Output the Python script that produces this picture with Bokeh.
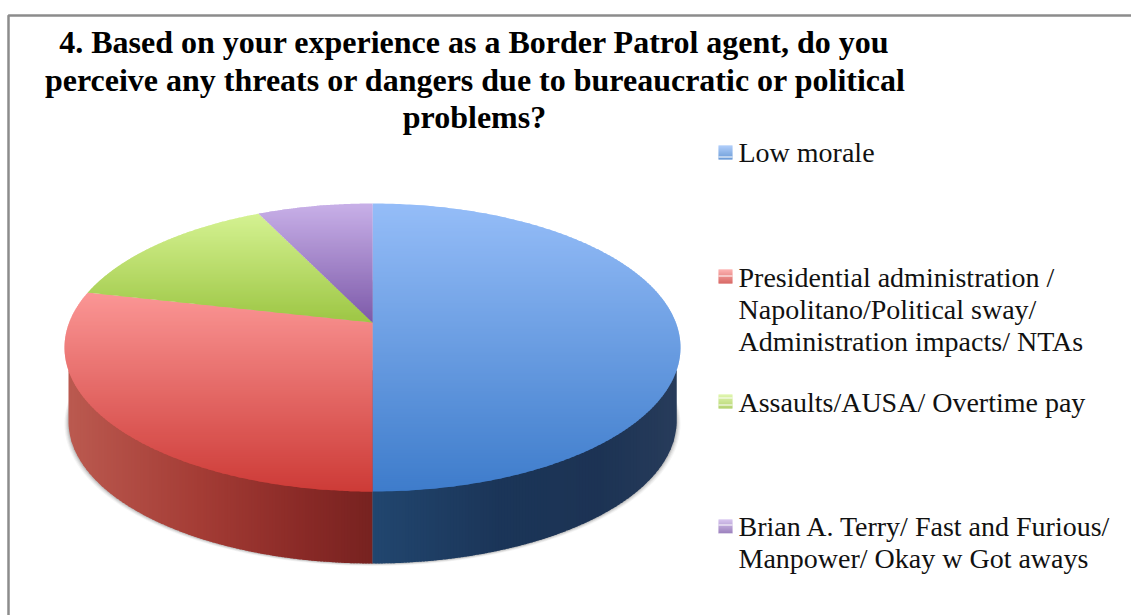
import numpy as np
from bokeh.core.properties import value
from bokeh.embed import file_html
from bokeh.models import ColumnDataSource, Range1d
from bokeh.plotting import figure
from bokeh.resources import INLINE

# Survey tallies, in clockwise order from twelve o'clock
categories = [
    "Low morale",
    "Presidential administration / Napolitano/Political sway/ Administration impacts/ NTAs",
    "Assaults/AUSA/ Overtime pay",
    "Brian A. Terry/ Fast and Furious/ Manpower/ Okay w Got aways",
]
counts = [7, 4, 2, 1]

title_lines = [
    "4. Based on your experience as a Border Patrol agent, do you",
    "perceive any threats or dangers due to bureaucratic or political",
    "problems?",
]
legend_lines = [
    ["Low morale"],
    ["Presidential administration /", "Napolitano/Political sway/", "Administration impacts/ NTAs"],
    ["Assaults/AUSA/ Overtime pay"],
    ["Brian A. Terry/ Fast and Furious/", "Manpower/ Okay w Got aways"],
]

# Top-surface gradient (upper colour, lower colour) for each slice
top_colors = [
    ("#95bdf8", "#3e7ccb"),
    ("#fb9695", "#cd3b37"),
    ("#d5f292", "#9dc644"),
    ("#c8b0e8", "#7d5aa9"),
]
# Wall shading as (x, colour) stops, for the two slices that face the viewer
red_wall = [(66, "#bb5a50"), (200, "#a43c35"), (300, "#8a2a27"), (372, "#772220")]
blue_wall = [(372, "#21466f"), (500, "#1b3558"), (600, "#1c3354"), (680, "#283c5b")]

# Page geometry in pixels, y growing downward
W, H = 1131, 615
CX = 372
TOP_Y, APEX_Y, BOTTOM_Y = 203, 322, 491
ELL_CY, ELL_RY, ELL_RX = 347, 144, 308
WALL_CY, WALL_RY, WALL_RX = 421, 142, 304


def rgb(hex_str):
    return np.array([int(hex_str[i:i + 2], 16) for i in (1, 3, 5)], dtype=float)


def to_hex(c):
    return "#%02x%02x%02x" % tuple(int(round(v)) for v in c)


def lerp(c0, c1, t):
    return to_hex(rgb(c0) * (1 - t) + rgb(c1) * t)


# Perspective mapping of the pie's unit disc onto the page
up, down = APEX_Y - TOP_Y, BOTTOM_Y - APEX_Y
persp = (up - down) / (BOTTOM_Y - TOP_Y)
a = up + TOP_Y * persp
halfwidth = ELL_RX * np.sqrt(1 - ((APEX_Y - ELL_CY) / ELL_RY) ** 2)


def disc_to_page(theta):
    u, v = np.sin(theta), -np.cos(theta)
    d = 1 + persp * v
    return CX + halfwidth * u / d, (a * v + APEX_Y) / d


def clip(poly, axis, lo, hi):
    """Clip a polygon to the band lo <= coordinate <= hi."""
    def half(pts, limit, keep_below):
        out = []
        n = len(pts)
        for i in range(n):
            p, q = pts[i], pts[(i + 1) % n]
            pin = p[axis] <= limit if keep_below else p[axis] >= limit
            qin = q[axis] <= limit if keep_below else q[axis] >= limit
            if pin:
                out.append(p)
            if pin != qin:
                t = (limit - p[axis]) / (q[axis] - p[axis])
                out.append((p[0] + t * (q[0] - p[0]), p[1] + t * (q[1] - p[1])))
        return out
    pts = half(poly, lo, False)
    if pts:
        pts = half(pts, hi, True)
    return pts


p = figure(width=W, height=H, output_backend="svg", toolbar_location=None,
           x_range=Range1d(0, W), y_range=Range1d(H, 0),
           min_border=0, outline_line_color=None, background_fill_color="white")
p.axis.visible = False
p.grid.visible = False

# Frame of the chart area: left and top edges only reach the page
p.line([8, 8, W], [H, 15, 15], line_color="#8c8c8c", line_width=2.5)

# Soft shadow under the pie's wall
t = np.linspace(0, 2 * np.pi, 240)
for grow, alpha in [(4.0, 0.05), (3.0, 0.07), (2.0, 0.10), (1.0, 0.14)]:
    p.patch(CX + (WALL_RX + grow) * np.cos(t), WALL_CY + grow * 0.6 + WALL_RY * np.sin(t),
            fill_color="#404040", fill_alpha=alpha, line_color=None)

# Wall of the pie, shaded in narrow overlapping vertical bands
arc = np.linspace(np.pi, 0, 260)
wall_x = CX + WALL_RX * np.cos(arc)
wall_y = WALL_CY + WALL_RY * np.sin(arc)
wall_poly = [(CX - WALL_RX, 370.0)] + list(zip(wall_x, wall_y)) + [(CX + WALL_RX, 370.0)]
STEP = 3
xs, ys, fills = [], [], []
for stops, x0, x1 in [(red_wall, CX - WALL_RX, CX), (blue_wall, CX, CX + WALL_RX)]:
    sx = [s[0] for s in stops]
    chans = [[rgb(s[1])[k] for s in stops] for k in range(3)]
    for left in np.arange(x0, x1, STEP):
        band = clip(wall_poly, 0, left, min(left + STEP + 1, x1))
        if band:
            col = [np.interp(left + STEP / 2, sx, ch) for ch in chans]
            xs.append([b[0] for b in band])
            ys.append([b[1] for b in band])
            fills.append(to_hex(col))
p.patches(xs="xs", ys="ys", fill_color="fills", line_color=None,
          source=ColumnDataSource(dict(xs=xs, ys=ys, fills=fills)))

# Top surface: each slice is built from its share of the total
edges = np.cumsum([0] + counts) / sum(counts) * 2 * np.pi
xs, ys, fills = [], [], []
for i in range(len(counts)):
    theta = np.linspace(edges[i], edges[i + 1], 240)
    ax, ay = disc_to_page(theta)
    poly = [(CX, APEX_Y)] + list(zip(ax, ay))
    y_all = [q[1] for q in poly]
    y0, y1 = min(y_all), max(y_all)
    for top in np.arange(y0, y1, 2):
        band = clip(poly, 1, top, min(top + 3, y1))
        if band:
            xs.append([b[0] for b in band])
            ys.append([b[1] for b in band])
            fills.append(lerp(top_colors[i][0], top_colors[i][1], (top + 1 - y0) / (y1 - y0)))
p.patches(xs="xs", ys="ys", fill_color="fills", line_color=None,
          source=ColumnDataSource(dict(xs=xs, ys=ys, fills=fills)))

# Title
p.text(x=[474, 475, 474], y=[41, 79, 116], text=title_lines, text_align="center",
       text_baseline="alphabetic", text_font=value("Liberation Serif"),
       text_font_style="bold", text_font_size="32px", text_color="#000000")

# Legend keys with their gradient and thin light rules, then the entries
key_tops = [145, 269, 394, 519]
key_rules = [[156], [275], [397, 404], [524, 533]]
entry_baselines = [[152], [277, 309, 341], [402], [526, 558]]
for i, top in enumerate(key_tops):
    rows = np.arange(top, top + 14)
    p.quad(left=718, right=732, top=rows, bottom=rows + 1,
           fill_color=[lerp(top_colors[i][0], top_colors[i][1], (r - top) / 13) for r in rows],
           line_color=None)
    for r in key_rules[i]:
        p.quad(left=718, right=732, top=r, bottom=r + 1, fill_color="white", line_color=None)
    p.text(x=[738] * len(legend_lines[i]), y=entry_baselines[i], text=legend_lines[i],
           text_align="left", text_baseline="alphabetic", text_font=value("Liberation Serif"),
           text_font_size="28px", text_color="#111111")

open("out.html", "w").write(file_html(p, INLINE))
